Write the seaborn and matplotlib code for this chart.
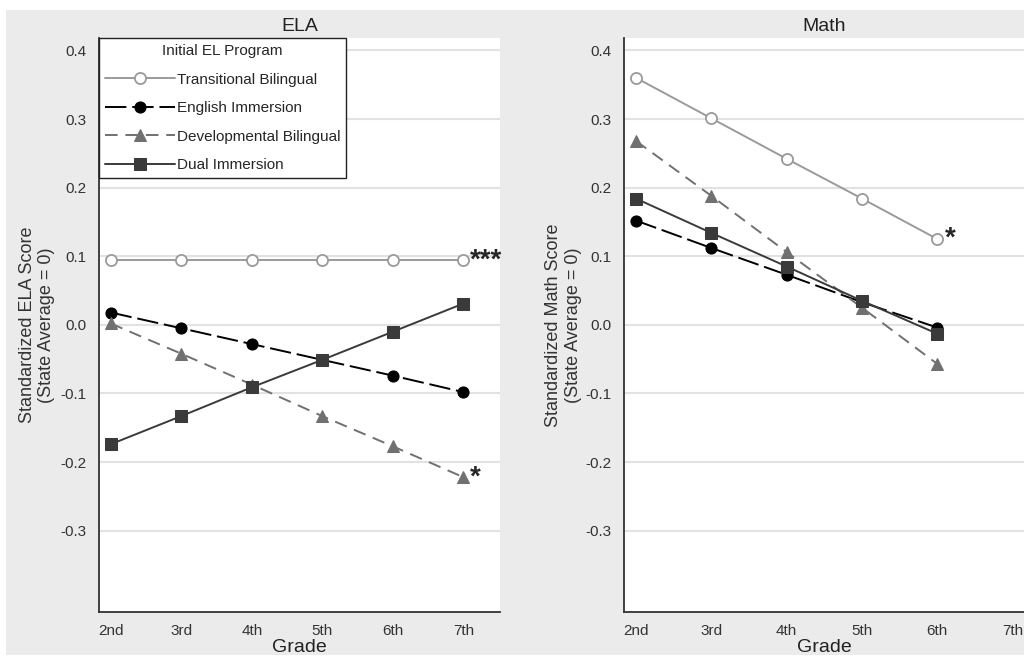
import pandas as pd
import numpy as np
import seaborn as sns
import matplotlib.pyplot as plt
from matplotlib.patches import Rectangle

# grades on the x axis
ela_grades = [2, 3, 4, 5, 6, 7]
math_grades = [2, 3, 4, 5, 6]
grade_labels = ['2nd', '3rd', '4th', '5th', '6th', '7th']
programs = ['Transitional Bilingual', 'English Immersion',
            'Developmental Bilingual', 'Dual Immersion']

# ELA scores
ela_transitional = [0.094, 0.094, 0.094, 0.094, 0.094, 0.094]
ela_english = [0.018, -0.005, -0.028, -0.051, -0.074, -0.098]
ela_developmental = [0.002, -0.042, -0.087, -0.133, -0.177, -0.222]
ela_dual = [-0.174, -0.133, -0.091, -0.051, -0.010, 0.031]

# Math scores
math_transitional = [0.360, 0.301, 0.242, 0.184, 0.125]
math_english = [0.152, 0.112, 0.073, 0.033, -0.004]
math_developmental = [0.268, 0.188, 0.106, 0.025, -0.057]
math_dual = [0.184, 0.134, 0.085, 0.035, -0.013]

y_ticks = [-0.3, -0.2, -0.1, 0.0, 0.1, 0.2, 0.3, 0.4]
y_tick_labels = ['-0.3', '-0.2', '-0.1', '0.0', '0.1', '0.2', '0.3', '0.4']

sns.set_style('white')
plt.rcParams['font.family'] = ['Liberation Sans', 'DejaVu Sans']

# line style per program
styles = {
    'Transitional Bilingual': dict(color='#9a9a9a', marker='o', markersize=8,
                                   markerfacecolor='white', markeredgecolor='#9a9a9a',
                                   markeredgewidth=1.3, linestyle='-'),
    'English Immersion': dict(color='#000000', marker='o', markersize=8,
                              markerfacecolor='#000000', markeredgecolor='#000000',
                              linestyle=(0, (11, 3))),
    'Developmental Bilingual': dict(color='#707070', marker='^', markersize=9,
                                    markerfacecolor='#707070', markeredgecolor='#707070',
                                    linestyle=(0, (6.5, 4))),
    'Dual Immersion': dict(color='#3a3a3a', marker='s', markersize=8,
                           markerfacecolor='#3a3a3a', markeredgecolor='#3a3a3a',
                           linestyle='-'),
}

fig = plt.figure(figsize=(10.24, 6.58), dpi=100)
fig.patch.set_facecolor('white')
fig.add_artist(Rectangle((6 / 1024, 3 / 658), 1, 645 / 658, transform=fig.transFigure,
                         facecolor='#ebebeb', edgecolor='none', zorder=-10))

ax1 = fig.add_axes([0.0964, 0.0704, 0.3919, 0.8718])
ax2 = fig.add_axes([0.6097, 0.0704, 0.3903, 0.8718])


def draw_panel(ax, grades, series, title, ylabel, xlim, ylabel_x):
    for prog, vals in zip(programs, series):
        sns.lineplot(x=grades, y=vals, ax=ax, label=prog, linewidth=1.4,
                     errorbar=None, **styles[prog])
    ax.set_xlim(*xlim)
    ax.set_ylim(-0.418, 0.418)
    ax.set_xticks(range(2, 8))
    ax.set_xticklabels(grade_labels)
    ax.set_yticks(y_ticks)
    ax.set_yticklabels(y_tick_labels)
    ax.tick_params(direction='out', length=5, width=1, color='#333333',
                   labelcolor='#333333', labelsize=11, pad=4)
    ax.grid(axis='y', color='#e2e2e2', linewidth=1.5)
    ax.grid(axis='x', visible=False)
    ax.set_axisbelow(True)
    for s in ['top', 'right']:
        ax.spines[s].set_visible(False)
    for s in ['left', 'bottom']:
        ax.spines[s].set_color('#333333')
        ax.spines[s].set_linewidth(1.3)
    ax.set_title(title, fontsize=14, color='#222222', pad=5)
    ax.set_xlabel('Grade', fontsize=14, color='#222222')
    ax.xaxis.set_label_coords(0.5, -0.048)
    ax.set_ylabel(ylabel, fontsize=13, color='#333333', multialignment='center')
    ax.yaxis.set_label_coords(ylabel_x, 0.5)


draw_panel(ax1, ela_grades, [ela_transitional, ela_english, ela_developmental, ela_dual],
           'ELA', 'Standardized ELA Score\n(State Average = 0)', (1.83, 7.52), -0.108)
draw_panel(ax2, math_grades, [math_transitional, math_english, math_developmental, math_dual],
           'Math', 'Standardized Math Score\n(State Average = 0)', (1.845, 7.15), -0.106)

# significance stars
ax1.text(ela_grades[-1] + 0.09, ela_transitional[-1], '***', fontsize=20,
         fontweight='bold', va='center')
ax1.text(ela_grades[-1] + 0.09, ela_developmental[-1], '*', fontsize=20,
         fontweight='bold', va='center')
ax2.text(math_grades[-1] + 0.1, math_transitional[-1], '*', fontsize=20,
         fontweight='bold', va='center')

if ax2.get_legend() is not None:
    ax2.get_legend().remove()

leg = ax1.legend(title='Initial EL Program', loc='upper left', bbox_to_anchor=(0, 1),
                 borderaxespad=0, fontsize=11, title_fontsize=11, frameon=True,
                 fancybox=False, framealpha=1, edgecolor='#222222',
                 handlelength=4.6, handletextpad=0.1, labelspacing=0.95,
                 borderpad=0.4)
leg.get_frame().set_linewidth(1.0)

plt.savefig('out.png', dpi=100)
